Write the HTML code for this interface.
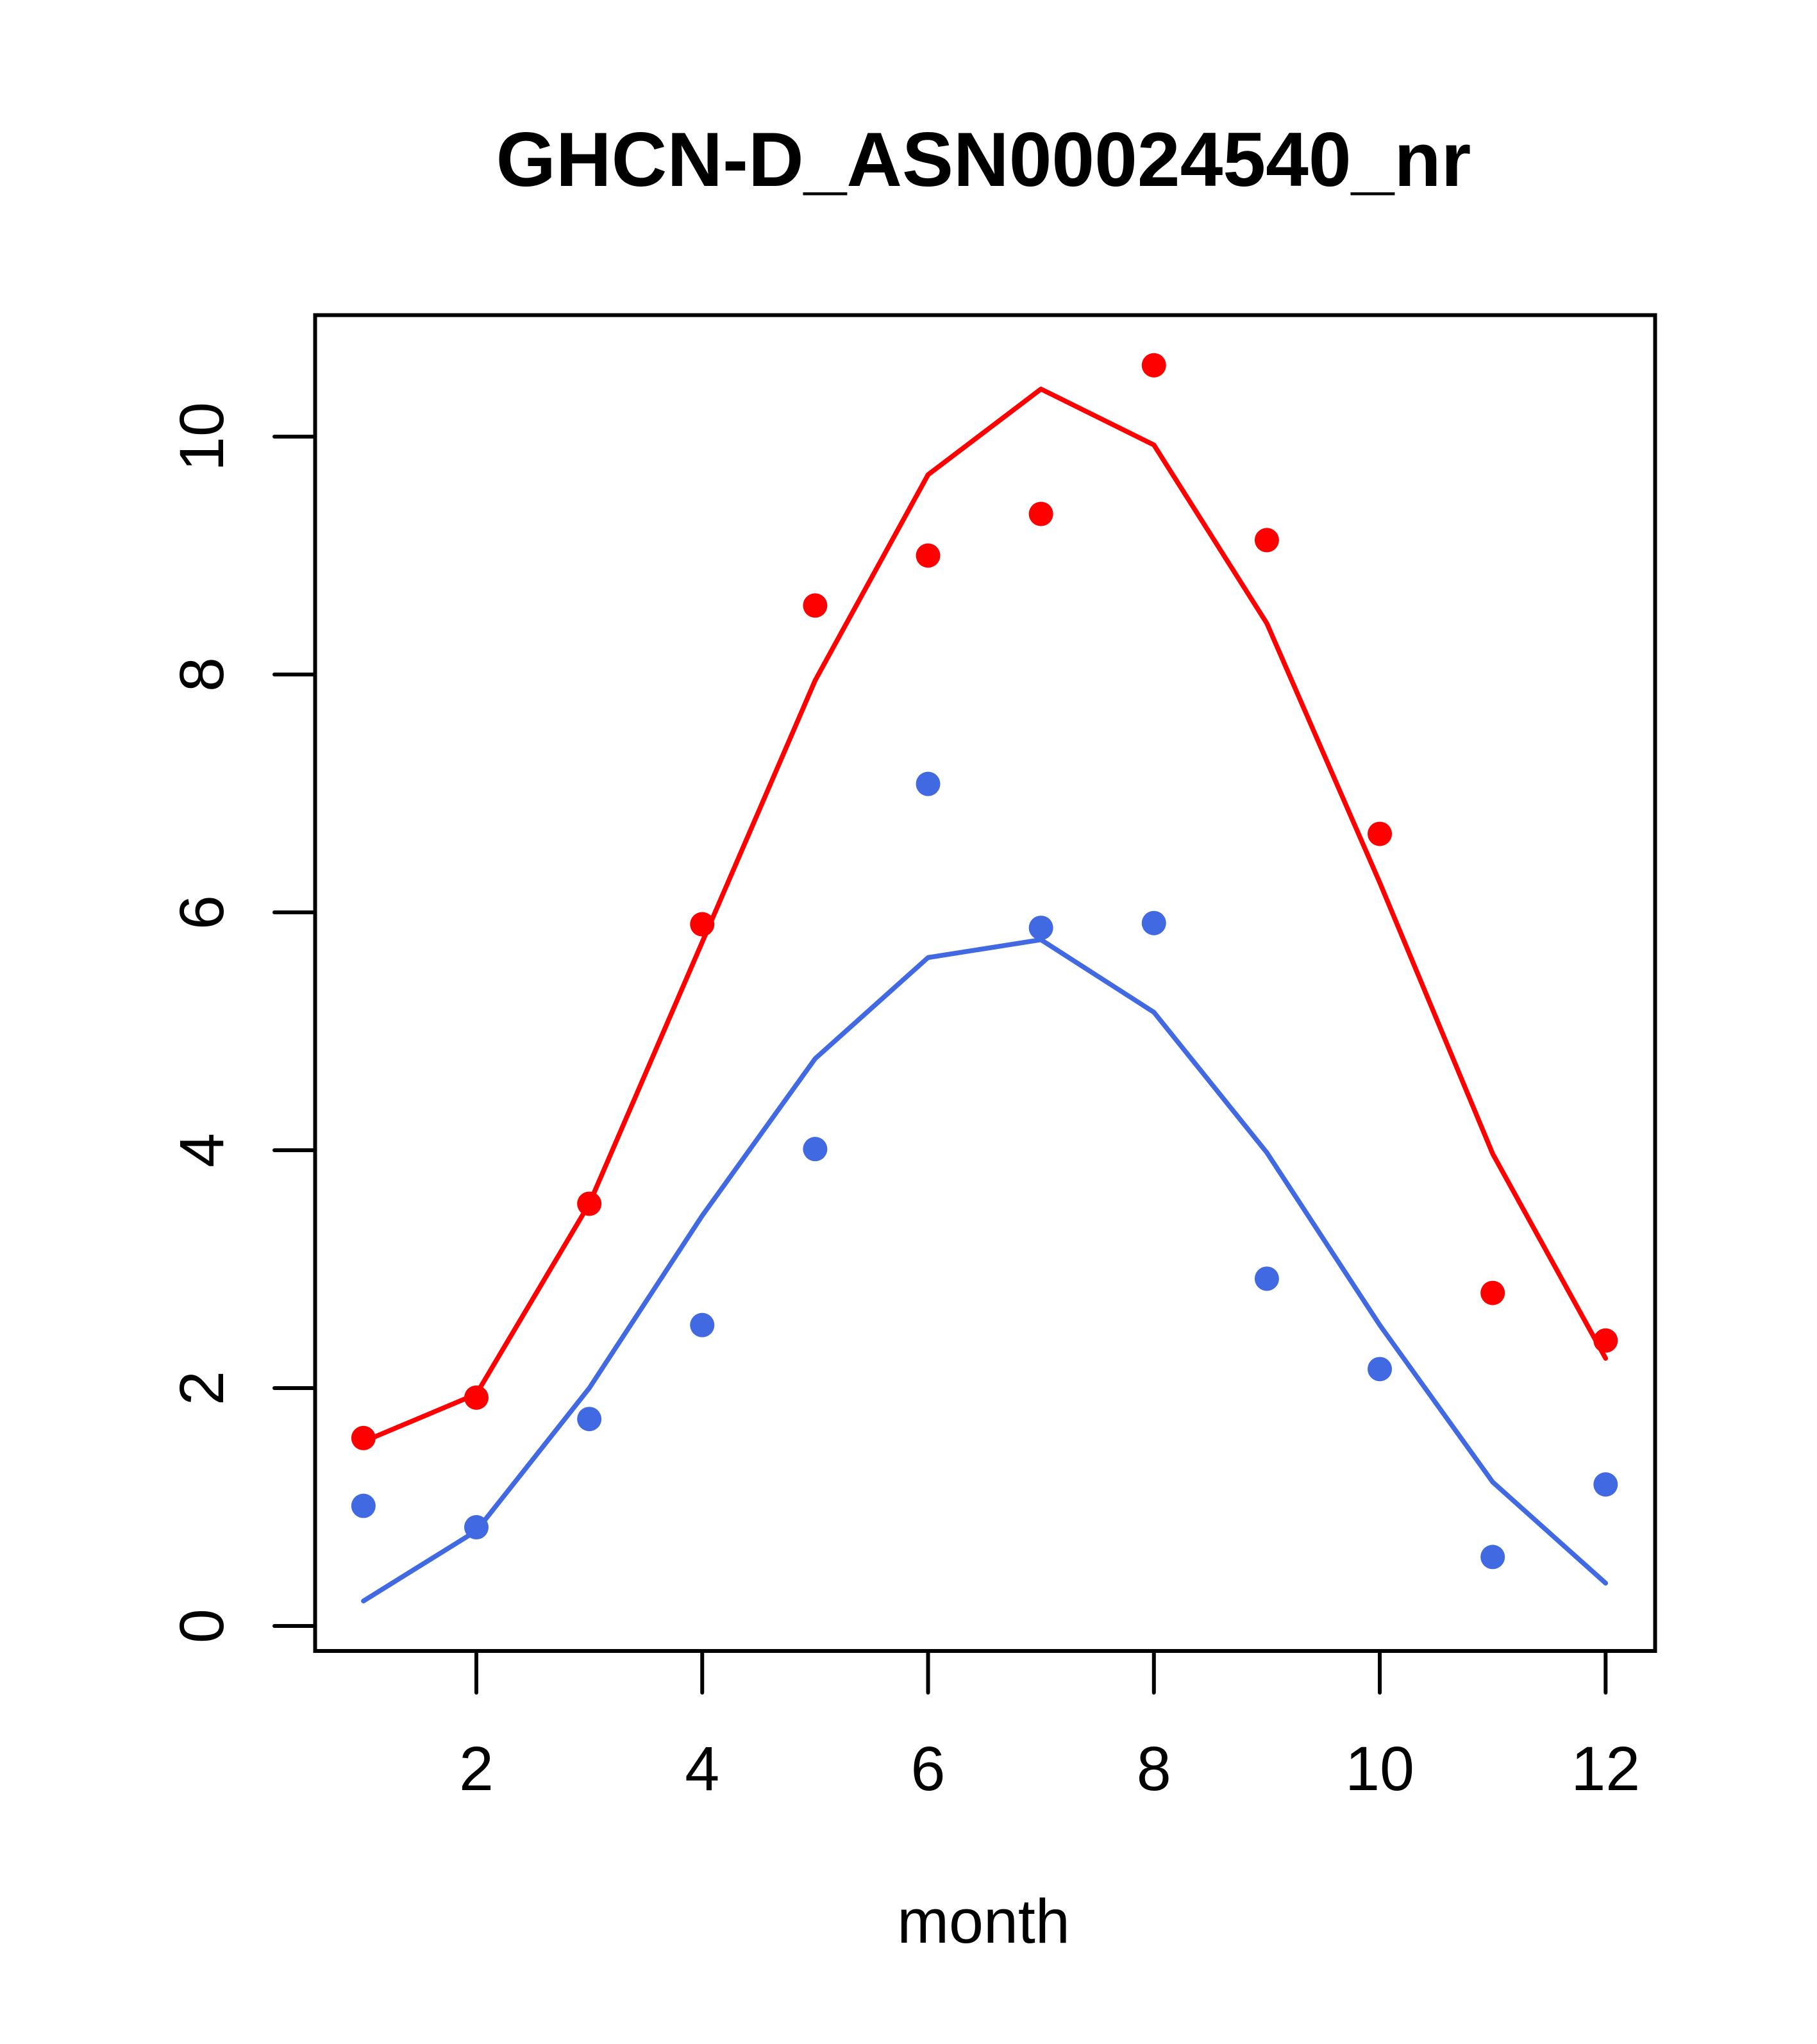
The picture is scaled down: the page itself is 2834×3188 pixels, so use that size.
<!DOCTYPE html>
<html><head><meta charset="utf-8"><style>html,body{margin:0;padding:0;background:#fff}svg{display:block}</style></head>
<body>
<svg xmlns="http://www.w3.org/2000/svg" width="2834" height="3188" viewBox="0 0 2834 3188" font-family="Liberation Sans, sans-serif">
<text x="1534" y="290" font-size="120" font-weight="bold" text-anchor="middle">GHCN-D_ASN00024540_nr</text>
<rect x="491.5" y="491.5" width="2090" height="2083.5" fill="none" stroke="#000" stroke-width="6" stroke-linejoin="miter"/>
<g id="axes"></g>
<g id="marks"></g>
<text x="1534" y="3030" font-size="97" text-anchor="middle">month</text>
</svg>
<script>
const months = [1,2,3,4,5,6,7,8,9,10,11,12];
const redPoints = [1.58,1.92,3.55,5.9,8.58,9.0,9.35,10.6,9.13,6.66,2.8,2.4];
const redLine = [1.55,1.95,3.55,5.75,7.95,9.68,10.4,9.93,8.43,6.25,3.97,2.25];
const bluePoints = [1.01,0.83,1.74,2.53,4.01,7.08,5.87,5.91,2.92,2.16,0.58,1.19];
const blueLine = [0.21,0.8,2.0,3.45,4.77,5.62,5.77,5.16,3.98,2.53,1.21,0.36];
const xTicks = [2,4,6,8,10,12];
const yTicks = [0,2,4,6,8,10];
const NS = 'http://www.w3.org/2000/svg';
function xs(v){return 743 + (v-2)*176.13;}
function ys(v){return 2536 - v*185.5;}
function mk(tag, attrs, parent){const e=document.createElementNS(NS,tag);for(const k in attrs)e.setAttribute(k,attrs[k]);parent.appendChild(e);return e;}
const axes=document.getElementById('axes'), marks=document.getElementById('marks');
xTicks.forEach(t=>{
  const l=mk('line',{x1:xs(t),x2:xs(t),y1:2575,y2:2640,stroke:'#000','stroke-width':6,'stroke-linecap':'round'},axes);
  
  
  const tx=mk('text',{x:xs(t),y:2792,'font-size':97,'text-anchor':'middle'},axes);
  tx.textContent=t;
  
  
});
yTicks.forEach(t=>{
  const l=mk('line',{x1:491.5,x2:428,y1:ys(t),y2:ys(t),stroke:'#000','stroke-width':6,'stroke-linecap':'round'},axes);
  
  
  const tx=mk('text',{x:0,y:0,'font-size':97,'text-anchor':'middle',transform:`translate(348,${ys(t)}) rotate(-90)`},axes);
  tx.textContent=t;
  
  
});
function line(vals,color,name){
  const p=mk('polyline',{points:vals.map((v,i)=>xs(months[i])+','+ys(v)).join(' '),fill:'none',stroke:color,'stroke-width':7.5,'stroke-linejoin':'round','stroke-linecap':'round'},marks);
  
  
}
function pts(vals,color,name){
  vals.forEach((v,i)=>{
    const c=mk('circle',{cx:xs(months[i]),cy:ys(v),r:19,fill:color},marks);
    
    
  });
}
line(redLine,'#ff0000','red-line');
line(blueLine,'#4169e1','blue-line');
pts(redPoints,'#ff0000','red-point');
pts(bluePoints,'#4169e1','blue-point');
</script>
</body></html>
